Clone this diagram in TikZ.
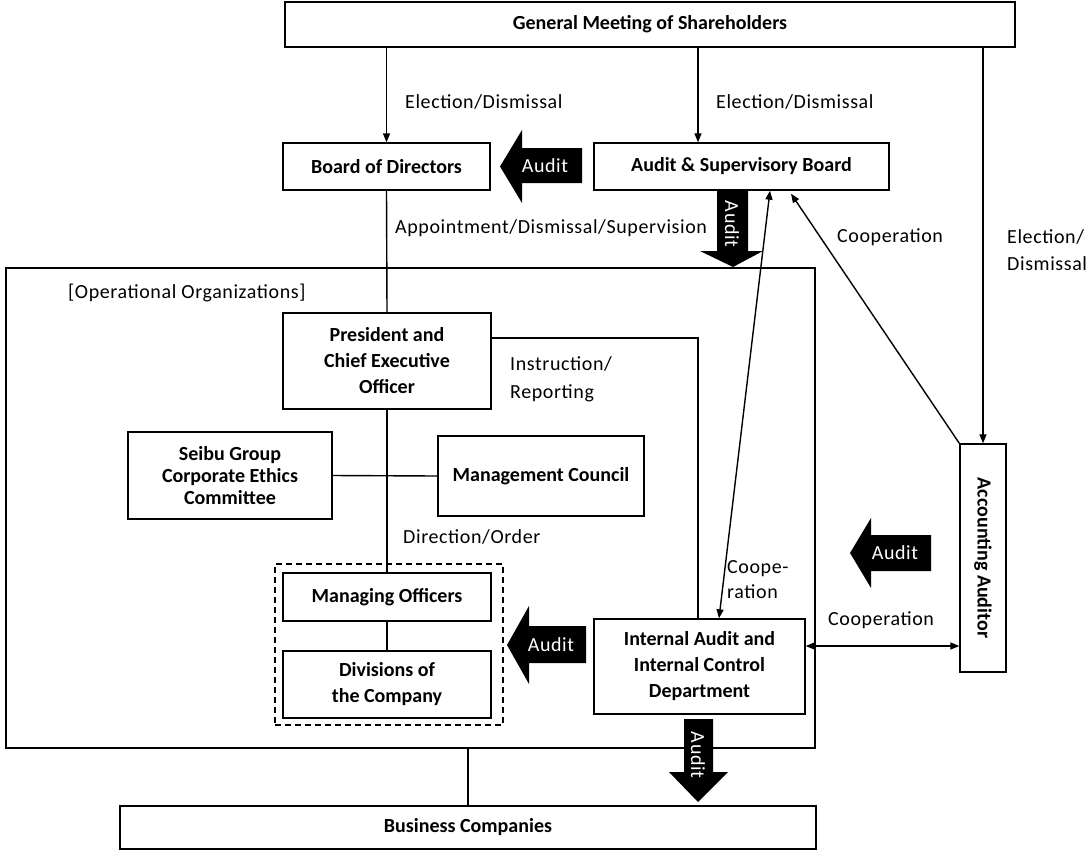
\documentclass[tikz,border=0pt]{standalone}
\usepackage{fontspec}
\setmainfont{Carlito}
\usetikzlibrary{arrows.meta}
\newcommand\lblfont{\fontsize{20}{27}\selectfont\addfontfeature{LetterSpace=3}}
\tikzset{
  box/.style={draw, line width=1.4pt, align=center, inner sep=0pt, font=\bfseries\fontsize{20}{26}\selectfont},
  lbl/.style={anchor=west, align=left, inner sep=0pt, font=\lblfont},
  ln/.style={line width=1.4pt},
  arr/.style={line width=1.4pt, -{Triangle[length=9pt,width=7pt]}},
  arrboth/.style={line width=1.4pt, {Triangle[length=9pt,width=7pt]}-{Triangle[length=9pt,width=7pt]}},
  blockarrow/.style={fill=black},
  audittext/.style={text=white, font=\lblfont, inner sep=0pt}
}
\begin{document}
\begin{tikzpicture}[x=1pt,y=-1pt]
\useasboundingbox (0,0) rectangle (1092,852);
% boxes
\node[box, minimum width=730pt, minimum height=45pt] (gms) at (650,24.5) {General Meeting of Shareholders};
\node[box, minimum width=207pt, minimum height=47pt] (bod) at (386.5,166.5) {Board of Directors};
\node[box, minimum width=295pt, minimum height=47pt] (asb) at (741.5,166.5) {Audit \& Supervisory Board};
\node[draw, line width=1.4pt, minimum width=809pt, minimum height=480pt, inner sep=0pt] (outer) at (410.5,508) {};
\node[box, minimum width=208pt, minimum height=96pt] (pres) at (387,361) {President and\\Chief Executive\\Officer};
\node[box, minimum width=204pt, minimum height=87pt, font=\bfseries\fontsize{20}{22}\selectfont] (seibu) at (230,475.5) {Seibu Group\\Corporate Ethics\\Committee};
\node[box, minimum width=206pt, minimum height=80pt] (mc) at (541,476) {Management Council};
\node[draw, dashed, dash pattern=on 6pt off 4pt, line width=1.4pt, minimum width=228pt, minimum height=161pt, inner sep=0pt] (grp) at (389,644.5) {};
\node[box, minimum width=208pt, minimum height=48pt] (mo) at (387,597) {Managing Officers};
\node[box, minimum width=208pt, minimum height=67pt] (div) at (387,684.5) {Divisions of\\the Company};
\node[box, minimum width=211pt, minimum height=95pt] (iaicd) at (699.5,666.5) {Internal Audit and\\Internal Control\\Department};
\node[box, minimum width=46pt, minimum height=228pt] (aa) at (983,558) {};
\node[rotate=-90, font=\bfseries\fontsize{20}{26}\selectfont, inner sep=0pt] (aatext) at (aa) {Accounting Auditor};
\node[box, minimum width=696pt, minimum height=43pt] (bc) at (468,827.5) {Business Companies};
\coordinate (xa) at (698,0);
% connectors
\draw[arr] (gms.south -| bod) -- (bod.north);
\draw[arr] (gms.south -| xa) -- (asb.north -| xa);
\draw[arr] (gms.south -| aa) -- (aa.north);
\draw[ln] (bod.south) -- (pres.north);
\draw[ln] (pres.south) -- (mo.north);
\draw[ln] (seibu.east) -- (mc.west);
\draw[ln] (mo.south) -- (div.north);
\draw[ln] ([yshift=23pt]pres.east) -| (iaicd.north -| xa);
\draw[arrboth] ([xshift=28.5pt]asb.south) -- ([xshift=19.5pt]iaicd.north);
\draw[arr] (aa.north west) -- ([xshift=49.5pt,yshift=-3pt]asb.south);
\draw[arrboth] ([yshift=20.5pt]iaicd.east) -- ([yshift=20.5pt]iaicd.east -| aa.west);
\draw[ln] (outer.south -| bc) -- (bc.north);
% labels
\node[lbl] (l1) at (405,102) {Election/Dismissal};
\node[lbl] (l2) at (716,102) {Election/Dismissal};
\node[lbl] (l3) at (1007,250) {Election/\\Dismissal};
\node[lbl] (l4) at (395,228) {Appointment/Dismissal/Supervision};
\node[lbl] (l5) at (837,237) {Cooperation};
\node[lbl] (l6) at (68,293) {[Operational Organizations]};
\node[lbl, font=\lblfont\fontsize{20}{28}\selectfont] (l7) at (510,379) {Instruction/\\Reporting};
\node[lbl] (l8) at (403,537) {Direction/Order};
\node[lbl, font=\lblfont\fontsize{20}{25}\selectfont] (l9) at (727,580) {Coope-\\ration};
\node[lbl] (l10) at (828,620) {Cooperation};
% audit block arrows
\fill[blockarrow] (500,166.5) -- (522,130) -- (522,148) -- (582,148) -- (582,183) -- (522,183) -- (522,203) -- cycle;
\node[audittext] (a1) at (545,166) {Audit};
\fill[blockarrow] (507,645) -- (529,606) -- (529,626) -- (586,626) -- (586,663) -- (529,663) -- (529,684) -- cycle;
\node[audittext] (a2) at (551,645) {Audit};
\fill[blockarrow] (850,553) -- (871,518) -- (871,535) -- (931,535) -- (931,571) -- (871,571) -- (871,588) -- cycle;
\node[audittext] (a3) at (895,553) {Audit};
\fill[blockarrow] (717,190) -- (748,190) -- (748,251) -- (763,251) -- (733,267) -- (700,251) -- (717,251) -- cycle;
\node[audittext, rotate=-90] (a4) at (732,224) {Audit};
\fill[blockarrow] (684,719) -- (713,719) -- (713,772) -- (728,772) -- (698,802) -- (669,772) -- (684,772) -- cycle;
\node[audittext, rotate=-90] (a5) at (698,755) {Audit};
\end{tikzpicture}
\end{document}
